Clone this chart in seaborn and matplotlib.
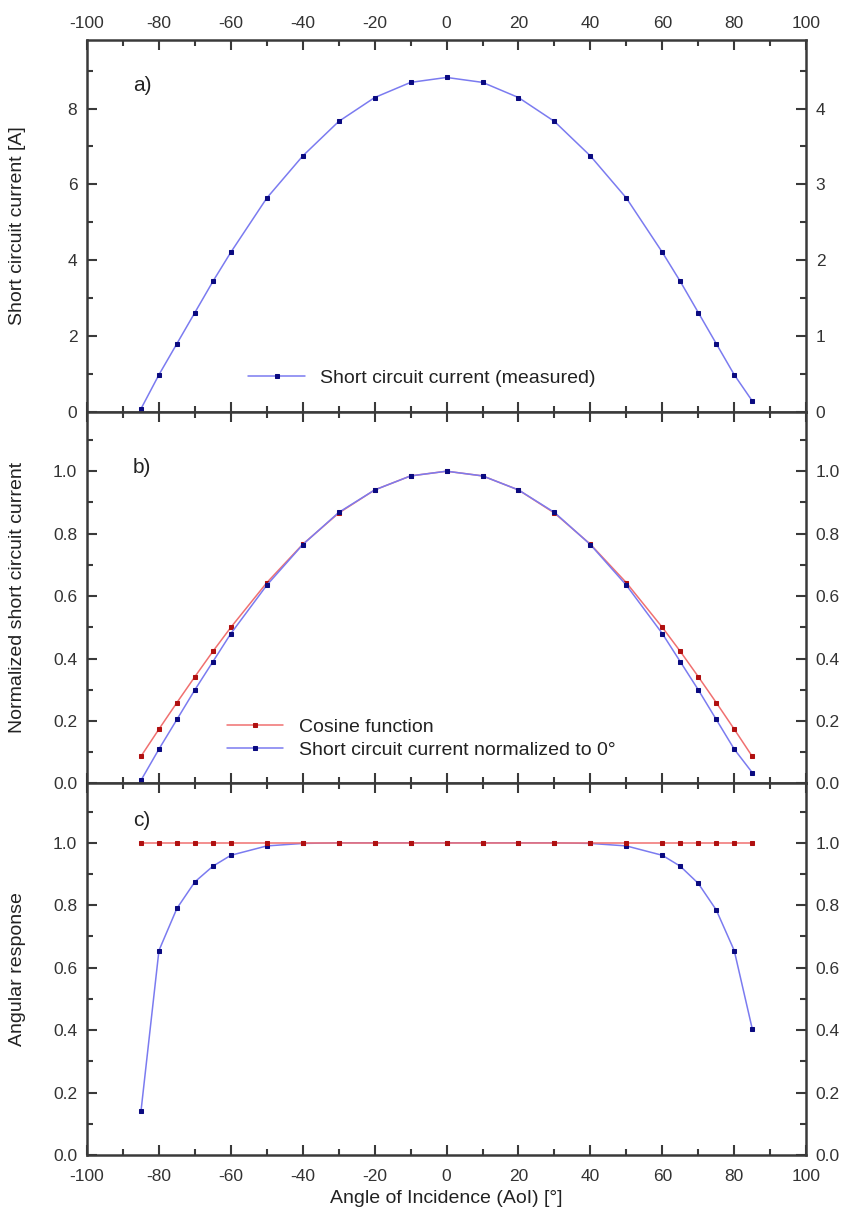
import numpy as np
import pandas as pd
import matplotlib.pyplot as plt
import seaborn as sns
from matplotlib.ticker import MultipleLocator

############################################################
##### Data
############################################################

angles = [-85, -80, -75, -70, -65, -60, -50, -40, -30, -20, -10, 0,
          10, 20, 30, 40, 50, 60, 65, 70, 75, 80, 85]

isc_measured = [0.08, 0.98, 1.80, 2.62, 3.44, 4.21, 5.64, 6.75, 7.66, 8.29, 8.69, 8.82,
                8.69, 8.29, 7.66, 6.75, 5.64, 4.21, 3.44, 2.62, 1.80, 0.98, 0.29]

cosine_values = [0.087, 0.174, 0.259, 0.342, 0.423, 0.500, 0.643, 0.766, 0.866, 0.940, 0.985, 1.000,
                 0.985, 0.940, 0.866, 0.766, 0.643, 0.500, 0.423, 0.342, 0.259, 0.174, 0.087]

isc_normalized = [0.010, 0.110, 0.205, 0.300, 0.390, 0.480, 0.635, 0.765, 0.868, 0.940, 0.985, 1.000,
                  0.985, 0.940, 0.868, 0.765, 0.635, 0.480, 0.390, 0.300, 0.205, 0.110, 0.035]

angular_response = [0.14, 0.655, 0.79, 0.875, 0.925, 0.96, 0.99, 0.998, 1.0, 1.0, 1.0, 1.0,
                    1.0, 1.0, 1.0, 0.998, 0.99, 0.96, 0.925, 0.87, 0.785, 0.655, 0.405]

cosine_response = [1.0] * len(angles)

x_ticks = [-100, -80, -60, -40, -20, 0, 20, 40, 60, 80, 100]

############################################################
##### Styling
############################################################

sns.set_style("ticks")
plt.rcParams["font.family"] = ["Liberation Sans", "DejaVu Sans"]
plt.rcParams["axes.unicode_minus"] = False

BLUE_LINE = "#7b7bf0"
BLUE_MARK = "#0a0a80"
RED_LINE = "#f07070"
RED_MARK = "#b01010"
SPINE = "#3a3a3a"


def style_axis(ax, ymax, major, minor):
    ax.set_xlim(-100, 100)
    ax.set_ylim(0, ymax)
    ax.set_xticks(x_ticks)
    ax.xaxis.set_minor_locator(MultipleLocator(10))
    ax.yaxis.set_major_locator(MultipleLocator(major))
    ax.yaxis.set_minor_locator(MultipleLocator(minor))
    ax.tick_params(which="both", direction="in", top=True, bottom=True, left=True, right=True,
                   color=SPINE, width=1.5, labelsize=12.5, labelcolor="#333333", pad=7)
    ax.tick_params(which="major", length=7)
    ax.tick_params(which="minor", length=4)
    for sp in ax.spines.values():
        sp.set_color(SPINE)
        sp.set_linewidth(1.8)
    ax.set_xlabel("")


def draw(ax, y, line_color, mark_color, label):
    df = pd.DataFrame({"angle": angles, "value": y})
    sns.lineplot(data=df, x="angle", y="value", ax=ax, color=line_color, linewidth=1.1,
                 marker="s", markersize=3.5, markerfacecolor=mark_color, markeredgecolor=mark_color,
                 label=label)


fig, axes = plt.subplots(3, 1, figsize=(8.45, 12.21), dpi=100, sharex=True)
plt.subplots_adjust(left=0.103, right=0.954, top=0.967, bottom=0.054, hspace=0)
ax_a, ax_b, ax_c = axes

# a) measured short circuit current
draw(ax_a, isc_measured, BLUE_LINE, BLUE_MARK, "Short circuit current (measured)")
style_axis(ax_a, 9.8, 2, 1)
ax_a.tick_params(labeltop=True, labelbottom=False, right=False)
ax_a.set_ylabel("Short circuit current [A]", fontsize=14, color="#222222")
ax_a.legend(frameon=False, loc="lower left", bbox_to_anchor=(0.2, 0.02), fontsize=14,
            handlelength=2.9, labelcolor="#222222")
ax_a.text(0.064, 0.878, "a)", transform=ax_a.transAxes, fontsize=15, color="#222222", va="center")

ax_a2 = ax_a.twinx()
ax_a2.set_ylim(0, 4.9)
ax_a2.yaxis.set_major_locator(MultipleLocator(1))
ax_a2.yaxis.set_minor_locator(MultipleLocator(0.5))
ax_a2.tick_params(which="both", direction="in", color=SPINE, width=1.5, labelsize=12.5,
                  labelcolor="#333333", pad=7)
ax_a2.tick_params(which="major", length=7)
ax_a2.tick_params(which="minor", length=4)
for sp in ax_a2.spines.values():
    sp.set_visible(False)

# b) normalized
draw(ax_b, cosine_values, RED_LINE, RED_MARK, "Cosine function")
draw(ax_b, isc_normalized, BLUE_LINE, BLUE_MARK, "Short circuit current normalized to 0°")
style_axis(ax_b, 1.19, 0.2, 0.1)
ax_b.tick_params(labelright=True, labelbottom=False)
ax_b.set_ylabel("Normalized short circuit current", fontsize=14, color="#222222")
ax_b.legend(frameon=False, loc="lower left", bbox_to_anchor=(0.17, 0.02), fontsize=14,
            handlelength=2.9, labelspacing=0.25, labelcolor="#222222")
ax_b.text(0.064, 0.85, "b)", transform=ax_b.transAxes, fontsize=15, color="#222222", va="center")

# c) angular response
draw(ax_c, angular_response, BLUE_LINE, BLUE_MARK, None)
draw(ax_c, cosine_response, RED_LINE, RED_MARK, None)
style_axis(ax_c, 1.19, 0.2, 0.1)
ax_c.tick_params(labelright=True, labelbottom=True)
ax_c.tick_params(axis="x", pad=10)
ax_c.set_ylabel("Angular response", fontsize=14, color="#222222")
ax_c.set_xlabel("Angle of Incidence (AoI) [°]", fontsize=14, color="#222222", labelpad=4)
if ax_c.get_legend() is not None:
    ax_c.get_legend().remove()
ax_c.text(0.064, 0.90, "c)", transform=ax_c.transAxes, fontsize=15, color="#222222", va="center")

for ax in axes:
    ax.yaxis.set_label_coords(-0.085, 0.5)

plt.savefig("out.png", dpi=100)
